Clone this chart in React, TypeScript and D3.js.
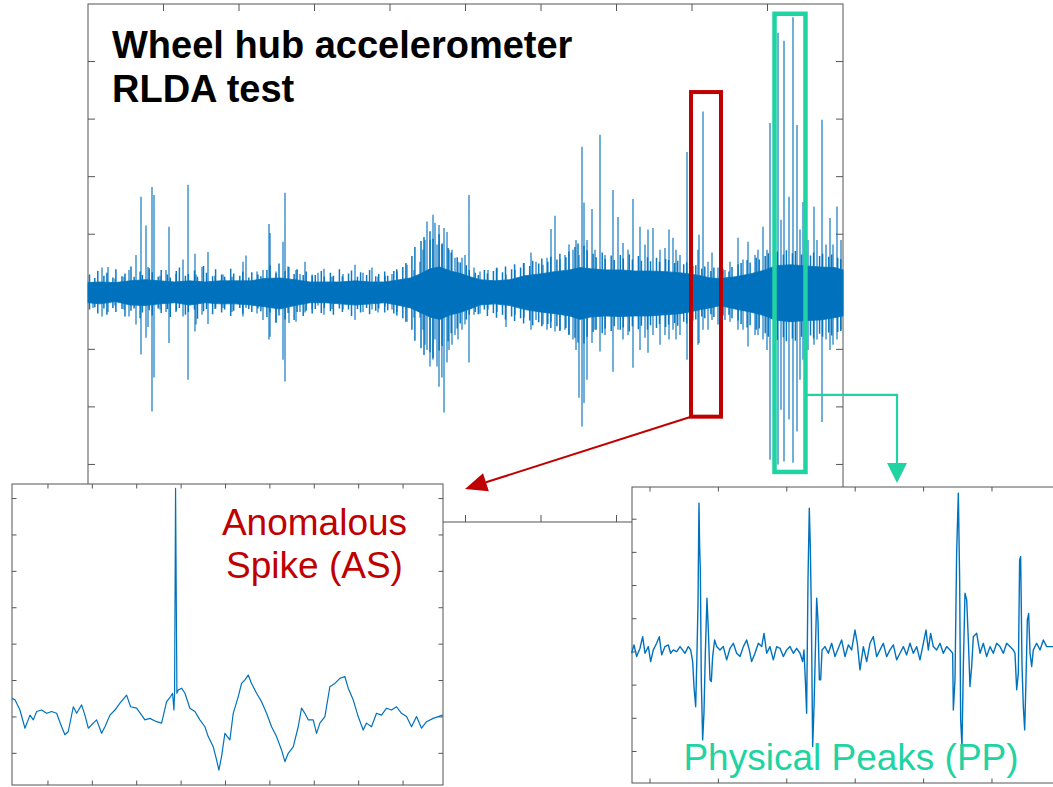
import React from 'react';
import * as d3 from 'd3';

// ---------- Main record: wheel hub accelerometer, RLDA test ----------
// Dense vibration band (core envelope), time in arbitrary units 0..1000
const envT = [0, 16, 36, 56, 76, 95, 115, 135, 155, 175, 195, 215, 234, 254, 274, 294, 314, 334, 354, 374, 393, 413, 427, 440, 453, 466, 480, 493, 506, 519, 539, 559, 579, 599, 618, 638, 652, 665, 685, 705, 725, 744, 764, 784, 797, 811, 824, 837, 857, 877, 897, 910, 930, 950, 970, 989, 1000];
const envHi = [1.6, 1.7, 1.6, 1.9, 2.1, 1.9, 1.7, 1.9, 1.7, 1.9, 1.9, 1.9, 2.3, 2.4, 2.1, 1.7, 1.7, 1.7, 1.9, 1.7, 1.7, 2.1, 2.4, 3.1, 4.0, 4.3, 3.6, 3.2, 2.6, 2.1, 1.9, 2.1, 2.8, 3.1, 3.5, 3.8, 4.2, 4.0, 3.8, 3.8, 3.6, 3.6, 3.5, 3.3, 3.1, 2.8, 2.4, 2.3, 2.6, 3.1, 3.8, 4.5, 4.7, 4.5, 4.3, 4.2, 3.8];
const envLo = [-1.9, -2.1, -1.7, -2.3, -2.4, -2.1, -1.9, -2.3, -1.9, -2.1, -2.1, -2.3, -2.6, -3.0, -2.4, -1.9, -1.9, -2.1, -2.3, -2.1, -1.9, -2.4, -2.8, -3.6, -4.4, -4.8, -4.0, -3.6, -3.0, -2.3, -2.1, -2.4, -3.1, -3.5, -3.8, -4.2, -4.8, -4.4, -4.2, -4.3, -4.2, -4.2, -4.0, -3.8, -3.5, -3.1, -2.8, -2.4, -3.0, -3.5, -4.2, -4.9, -5.2, -5.0, -4.9, -4.5, -4.2];

// Ragged fringe of the band (time, local max, local min)
const fringeT = [2, 9, 13, 21, 25, 33, 37, 45, 49, 57, 61, 69, 72, 81, 85, 93, 97, 105, 109, 117, 121, 129, 133, 141, 145, 153, 157, 165, 169, 177, 181, 189, 193, 201, 205, 213, 217, 225, 229,
  237, 241, 249, 253, 261, 265, 273, 277, 285, 289, 297,
  301, 309, 313, 321, 325, 333, 337, 345, 349, 357, 361, 369, 373, 381, 385, 393, 397, 405, 409, 417,
  421, 429, 433, 441, 445, 453, 457, 465, 469, 477, 481, 489, 493, 501, 505,
  513, 517, 525, 529, 537, 541, 549, 553, 561, 565, 573, 577, 585, 589, 597, 601, 609, 613, 621, 625, 633, 637, 645, 649,
  657, 661, 669, 673, 681, 685, 693, 697, 705, 709, 717, 721, 729, 733, 741, 745, 753, 757, 765, 769, 777, 781, 789, 793, 801,
  805, 813, 817, 825, 829, 837, 841, 849, 853, 861,
  865, 873, 877, 885, 889, 897, 901, 909, 913, 921, 925, 933, 937, 945, 949, 957, 961, 969, 973, 981, 985, 993, 997];
const fringeHi = [3.0, 2.4, 3.6, 2.8, 3.3, 2.5, 3.9, 2.7, 3.2, 4.4, 2.6, 3.5, 2.9, 4.1, 3.4, 2.6, 3.8, 3.0, 2.5, 3.6, 4.2, 2.8, 3.1, 3.7, 2.6, 4.5, 3.3, 2.7, 3.9, 3.0, 2.6, 4.0, 3.2, 2.8, 3.5, 2.5, 3.4, 3.0, 2.7,
  3.8, 4.6, 3.2, 4.9, 3.6, 4.4, 3.1, 3.9, 2.9, 3.5, 2.8,
  2.9, 3.6, 2.6, 3.3, 2.8, 3.9, 2.7, 3.2, 3.7, 2.6, 3.4, 2.9, 3.8, 2.7, 3.1, 3.5, 2.8, 3.6, 3.9, 4.3,
  5.0, 6.2, 7.8, 8.8, 9.5, 10.5, 9.2, 10.0, 8.4, 7.6, 6.8, 6.0, 5.1, 4.6, 3.8,
  3.3, 2.9, 3.8, 3.2, 3.6, 4.1, 3.4, 4.4, 3.9, 4.8, 4.2, 5.0, 4.5, 5.4, 4.9, 5.8, 5.2, 6.1, 5.6, 6.6, 6.0, 7.0, 7.8, 8.4,
  8.0, 7.2, 6.6, 6.0, 6.8, 5.7, 6.3, 5.5, 6.4, 5.8, 6.5, 5.6, 6.2, 5.4, 6.0, 5.3, 5.9, 5.2, 5.7, 5.5, 5.0, 5.4, 4.8, 5.1, 4.5,
  4.6, 4.0, 4.4, 3.6, 4.2, 3.4, 3.9, 3.5, 4.3, 4.8,
  5.0, 5.5, 5.1, 5.9, 5.6, 6.2, 6.7, 6.3, 7.0, 6.5, 7.2, 6.7, 7.1, 6.5, 6.9, 6.3, 6.8, 6.2, 6.6, 6.1, 6.5, 5.9, 5.7];
const fringeLo = [-3.1, -2.7, -3.8, -2.9, -4.0, -2.8, -3.5, -3.0, -4.3, -3.3, -2.9, -4.6, -3.6, -3.2, -4.1, -2.9, -3.7, -3.0, -4.4, -3.3, -2.8, -4.0, -3.5, -3.1, -4.7, -3.4, -3.0, -3.9, -2.9, -3.6, -3.1, -4.2, -3.3, -2.8, -3.8, -3.0, -3.5, -2.9, -3.4,
  -4.4, -3.6, -5.3, -4.1, -4.8, -3.7, -4.9, -3.5, -4.2, -3.3, -3.8,
  -3.0, -3.7, -2.8, -3.4, -4.0, -2.9, -3.5, -3.1, -4.2, -3.0, -3.6, -2.8, -3.9, -3.3, -2.9, -3.6, -3.2, -3.8, -4.1, -4.6,
  -5.2, -6.6, -8.5, -9.8, -11.0, -10.5, -11.5, -10.2, -9.4, -8.6, -7.2, -6.4, -5.5, -4.8, -4.0,
  -3.5, -3.9, -3.1, -4.2, -3.7, -4.5, -4.0, -4.8, -4.3, -5.1, -4.6, -5.5, -5.0, -5.8, -5.3, -6.0, -5.6, -6.3, -6.0, -6.8, -6.3, -7.4, -8.0, -8.8,
  -9.0, -7.8, -7.0, -6.6, -7.2, -6.4, -6.8, -6.0, -6.6, -6.2, -6.9, -6.0, -6.5, -5.9, -6.6, -5.8, -6.3, -5.6, -6.1, -5.7, -5.4, -5.9, -5.2, -5.5, -5.0,
  -4.8, -4.3, -4.6, -3.9, -4.4, -3.7, -4.1, -4.0, -4.6, -5.0,
  -5.6, -6.2, -5.8, -6.6, -6.4, -7.2, -7.8, -7.4, -8.4, -7.9, -8.6, -8.1, -8.5, -7.8, -8.2, -7.6, -8.1, -7.3, -7.8, -7.1, -7.6, -7.0, -6.8];

// Individual excursions (time, max, min)
const spikeT = [6.6, 18.5, 26.5, 35.8, 47.7, 54.3, 63.6, 70.2, 76.8, 79.5, 84.8, 87.4, 95.4, 103.3, 107.3, 116.6, 125.8, 132.4, 141.7, 143.0, 151.0, 158.9, 168.2, 178.8, 190.7, 205.3, 209.3, 223.8, 231.8, 239.7, 241.1, 249.0, 258.3, 260.9, 266.2, 275.5, 280.8, 287.4, 296.8, 304.6, 312.6, 323.2, 337.7, 353.6, 364.2, 376.2, 384.1, 393.4, 402.6, 409.3, 422.5, 431.8, 439.7, 443.7, 446.4, 449.0, 453.0, 456.9, 459.6, 462.2, 464.9, 468.8, 471.5, 475.5, 478.1, 482.1, 486.1, 490.1, 495.4, 499.3, 504.6, 511.3, 519.2, 529.8, 541.7, 553.6, 565.6, 577.5, 586.8, 593.4, 602.6, 607.9, 613.2, 618.5, 625.2, 631.8, 637.1, 642.4, 646.3, 650.3, 654.3, 657.0, 660.9, 667.5, 671.5, 678.1, 684.8, 695.4, 702.0, 708.6, 715.2, 721.9, 731.1, 737.7, 741.7, 748.3, 757.6, 764.2, 769.5, 774.8, 778.8, 784.1, 793.4, 800.0, 807.9, 809.3, 814.6, 821.2, 826.5, 834.4, 843.7, 850.3, 860.9, 867.5, 874.2, 883.4, 887.4, 894.0, 899.3, 903.3, 909.9, 913.9, 917.9, 921.9, 928.5, 933.8, 939.1, 943.0, 947.0, 953.6, 961.6, 965.6, 972.2, 977.5, 982.8, 986.8, 992.0, 997.3];
const spikeHi = [1.7, 4.2, 4.3, 2.3, 2.6, 3.8, 6.4, 16.5, 11.5, 4.3, 18.2, 16.8, 2.8, 3.8, 11.3, 3.1, 5.6, 18.6, 6.6, 3.0, 4.3, 6.9, 2.8, 3.0, 2.6, 5.2, 6.3, 3.5, 3.8, 11.8, 10.2, 3.5, 8.7, 17.2, 4.3, 3.8, 3.1, 5.2, 3.0, 3.3, 4.0, 2.6, 3.1, 4.7, 3.3, 4.2, 2.6, 2.8, 3.1, 3.5, 4.7, 3.8, 5.2, 7.3, 9.0, 12.2, 9.0, 13.4, 12.0, 8.2, 11.6, 8.2, 11.1, 10.4, 7.3, 7.3, 5.9, 5.2, 5.9, 6.4, 16.8, 4.2, 3.5, 3.8, 4.2, 3.0, 3.8, 5.0, 6.8, 5.2, 4.7, 5.9, 10.9, 13.2, 5.6, 6.4, 8.2, 7.3, 9.0, 6.4, 25.2, 15.5, 9.0, 14.4, 7.3, 27.3, 6.4, 17.7, 13.0, 8.5, 7.3, 16.1, 11.3, 8.2, 10.8, 11.1, 7.3, 7.6, 10.8, 9.4, 7.3, 6.4, 24.3, 4.7, 7.3, 9.9, 31.3, 5.2, 6.8, 4.2, 3.8, 5.2, 9.4, 5.6, 8.7, 6.4, 7.3, 11.3, 7.3, 29.3, 9.0, 45.0, 12.5, 43.6, 16.5, 47.7, 29.0, 10.8, 15.6, 9.0, 14.8, 9.0, 29.9, 8.2, 12.8, 8.2, 14.8, 9.0];
const spikeLo = [-2.8, -4.3, -3.5, -2.4, -3.1, -4.3, -5.7, -10.9, -8.0, -6.1, -20.8, -14.9, -3.1, -3.5, -8.9, -3.5, -4.3, -15.3, -6.9, -5.7, -4.0, -5.6, -3.0, -2.8, -3.5, -4.3, -2.8, -3.8, -4.9, -8.3, -7.8, -5.4, -11.8, -15.6, -5.4, -5.2, -3.5, -3.6, -3.1, -2.4, -4.0, -3.0, -3.1, -4.9, -3.5, -3.1, -3.6, -2.6, -3.1, -3.5, -5.2, -4.5, -4.5, -6.6, -9.2, -10.1, -13.0, -11.8, -8.3, -13.0, -16.5, -14.9, -21.0, -12.3, -10.1, -9.2, -7.5, -8.3, -6.6, -5.7, -12.3, -4.0, -3.8, -3.1, -3.5, -6.1, -4.0, -4.5, -6.6, -4.9, -5.7, -6.6, -5.2, -6.9, -6.6, -6.6, -7.5, -8.3, -10.1, -18.4, -23.4, -19.3, -15.3, -8.9, -6.6, -10.4, -7.5, -13.9, -6.6, -8.3, -7.5, -13.2, -10.1, -8.0, -10.6, -7.5, -9.2, -7.5, -8.3, -6.6, -8.3, -7.5, -11.8, -4.9, -9.2, -8.9, -6.6, -6.6, -4.9, -5.7, -4.9, -5.2, -6.6, -6.6, -9.5, -7.5, -7.5, -8.3, -10.1, -29.2, -24.0, -30.0, -20.5, -29.5, -22.2, -29.7, -24.3, -15.3, -11.8, -10.1, -9.2, -8.3, -22.6, -8.3, -10.1, -9.2, -8.3, -6.6];

const mainXTicks = [100, 200, 300, 400, 500, 600, 700, 800, 900];
const mainYTicks = [-30, -20, -10, 0, 10, 20, 30, 40];

// Highlighted windows in the main record (time range, value range)
const asWindow = { t0: 798.7, t1: 838.4, v0: -21.7, v1: 34.7 };
const ppWindow = { t0: 909.3, t1: 950.3, v0: -31.3, v1: 48.3 };
const ppConnectorV = -17.9;

// ---------- Inset: anomalous spike ----------
const asT = [-8.1, -7.43, -6.31, -5.18, -4.05, -3.30, -2.55, -1.43, -0.30, 0.83, 1.95, 3.08, 3.83, 4.58, 5.71, 6.46, 7.58, 8.33, 9.08, 10.21, 10.96, 12.09, 12.84, 13.96, 15.09, 16.22, 17.72, 18.62, 19.97, 21.10, 21.85, 22.97, 24.47, 25.60, 26.73, 27.63, 28.08, 28.38, 28.53, 28.75, 29.05, 29.35, 30.11, 30.86, 31.98, 33.11, 34.23, 35.36, 36.11, 37.24, 37.99, 38.51, 39.11, 39.86, 40.99, 41.74, 42.87, 43.62, 44.37, 45.12, 45.87, 47.00, 48.12, 49.25, 50.38, 51.50, 52.63, 53.38, 54.13, 55.26, 56.38, 57.13, 57.88, 58.63, 59.76, 60.51, 61.26, 62.39, 63.51, 64.64, 65.77, 66.89, 67.64, 68.77, 69.89, 71.02, 71.77, 72.90, 74.02, 75.15, 76.28, 77.40, 78.53, 79.65, 80.78, 81.91, 83.03, 84.16, 85.29, 86.79, 88.9];
const asV = [0.51, 0.47, 0.19, -0.31, 0.05, -0.08, 0.15, 0.19, 0.10, 0.15, 0.10, -0.27, -0.49, -0.40, 0.28, 0.10, 0.33, 0.05, -0.31, -0.17, -0.08, -0.45, -0.27, 0.05, 0.19, 0.38, 0.60, 0.28, 0.24, 0.05, -0.08, -0.04, -0.13, -0.17, 0.42, 0.56, 0.65, 0.19, 0.65, 6.28, 0.65, 0.74, 0.79, 0.65, 0.24, 0.15, -0.08, -0.27, -0.54, -0.82, -1.18, -1.46, -1.09, -0.45, -0.63, 0.10, 0.56, 0.92, 1.02, 1.15, 0.92, 0.65, 0.42, 0.10, -0.27, -0.54, -0.91, -1.23, -1.00, -0.82, -0.27, 0.24, 0.10, -0.08, -0.08, -0.45, -0.17, 0.01, 0.83, 0.92, 1.06, 1.11, 0.79, 0.47, 0.01, -0.36, -0.17, -0.27, 0.10, 0.05, 0.24, 0.19, 0.28, 0.10, 0.01, -0.27, 0.01, -0.31, -0.13, -0.04, 0.05];
const asXTicks = [0, 10, 20, 30, 40, 50, 60, 70, 80];
const asYTicks = [-1, 0, 1, 2, 3, 4, 5, 6];

// ---------- Inset: physical peaks ----------
const ppT = [-2.68, -2.34, -1.95, -1.46, -1.07, -0.73, -0.24, 0.10, 0.49, 0.97, 1.36, 1.71, 2.19, 2.68, 3.02, 3.41, 3.90, 4.39, 5.12, 5.60, 5.95, 6.24,
  6.43, 6.68, 6.87, 7.02, 7.16, 7.26, 7.36, 7.50, 7.70, 7.89, 8.09, 8.33, 8.53, 8.77, 8.97, 9.16, 9.45, 9.75,
  10.23, 10.72, 11.21, 11.70, 12.18, 12.67, 13.16, 13.65, 14.13, 14.52, 14.86, 15.35, 15.84, 16.33, 16.67, 17.06, 17.54, 18.03, 18.52, 19.01, 19.49, 19.98, 20.47, 20.96, 21.44, 21.93, 22.32, 22.51,
  22.71, 22.90, 23.10, 23.29, 23.44, 23.59, 23.78, 23.98, 24.17, 24.37, 24.56, 24.76, 24.95, 25.15,
  25.58, 26.07, 26.56, 27.05, 27.53, 28.02, 28.51, 29.00, 29.48, 29.97, 30.31, 30.70, 31.19, 31.68, 32.16, 32.65, 33.14, 33.63, 34.11, 34.60, 35.09, 35.58, 36.06, 36.55, 37.04, 37.52, 38.01, 38.50, 38.99, 39.47, 39.96, 40.35, 40.69, 41.03, 41.42, 41.91, 42.40, 42.88, 43.37, 43.86, 44.25,
  44.35, 44.59, 44.83, 45.08, 45.27, 45.42, 45.61, 45.81, 46.05, 46.30, 46.54, 46.78, 47.03, 47.27,
  47.76, 48.25, 48.73, 49.22, 49.71, 50.19, 50.68, 51.17, 51.66, 52.14, 52.63, 53.12, 53.36,
  53.61, 53.85, 54.04, 54.19, 54.39, 54.58, 54.78, 54.97, 55.17, 55.36, 55.56, 55.80, 56.04, 56.53, 57.02, 57.51, 57.99, 58.92];
const ppV = [-0.04, 0.21, -0.14, 0.11, 0.46, -0.04, 0.16, -0.29, 0.06, 0.26, 0.46, -0.09, 0.16, 0.21, -0.04, 0.06, 0.01, 0.16, -0.04, 0.16, 0.06, -0.29,
  -1.04, -1.65, -0.04, 1.47, 4.48, 3.17, 2.47, -0.84, -2.65, -1.85, -0.04, 1.62, 0.66, -0.84, -0.89, -0.14, 0.36, 0.16,
  0.06, 0.16, -0.24, 0.11, 0.26, -0.04, -0.14, 0.16, 0.36, 0.06, -0.29, -0.04, 0.26, 0.16, 0.56, -0.04, 0.16, -0.24, 0.16, 0.11, -0.14, 0.06, 0.16, -0.04, 0.11, -0.04, -0.29, 0.06,
  -0.84, -1.85, 2.17, 4.33, 3.17, 1.16, -2.85, -1.65, -0.04, 1.62, 0.96, -0.84, -0.84, 0.06,
  0.16, -0.04, 0.26, -0.14, 0.11, 0.36, -0.14, 0.21, 0.06, 0.66, 0.26, -0.54, 0.16, -0.29, 0.26, 0.46, -0.14, 0.06, 0.26, -0.14, 0.06, 0.21, -0.24, -0.04, 0.16, -0.09, 0.26, -0.04, 0.16, -0.24, 0.26, 0.66, 0.06, 0.56, 0.16, 0.06, 0.26, -0.04, 0.16, 0.06, -0.04,
  -1.75, -0.84, 2.97, 4.78, 2.17, -2.05, -2.85, -0.44, 1.77, 1.57, 0.36, -1.04, -0.44, 0.46,
  0.56, -0.04, 0.26, -0.14, 0.16, -0.04, 0.26, 0.16, -0.04, 0.26, 0.16, 0.06, -0.04,
  -1.14, -0.64, 2.77, 2.87, -0.44, -1.65, -2.35, -0.84, 0.96, 1.16, -0.04, -0.44, 0.06, 0.26, 0.06, 0.36, 0.16, 0.16];
const ppXTicks = [0, 10, 20, 30, 40, 50];
const ppYTicks = [-3, -2, -1, 0, 1, 2, 3, 4];

const BLUE = '#0072BD';
const RED = '#C00000';
const GREEN = '#1FD3A2';
const FRAME = '#555555';
const FONT = "'Liberation Sans', Arial, Helvetica, sans-serif";

function pairs(t: number[], v: number[]): [number, number][] {
  const n = Math.min(t.length, v.length);
  return d3.range(n).map((i) => [t[i], v[i]] as [number, number]);
}

function Frame({ x0, x1, y0, y1, xt, yt, sx, sy, len, fill }: any) {
  const ticks: string[] = [];
  xt.forEach((t: number) => {
    const px = sx(t);
    ticks.push(`M${px},${y0}V${y0 + len}`);
    ticks.push(`M${px},${y1}V${y1 - len}`);
  });
  yt.forEach((t: number) => {
    const py = sy(t);
    ticks.push(`M${x0},${py}H${x0 + len}`);
    ticks.push(`M${x1},${py}H${x1 - len}`);
  });
  return (
    <g>
      {fill && <rect x={x0} y={y0} width={x1 - x0} height={y1 - y0} fill={fill} />}
      <path d={ticks.join('')} stroke={FRAME} strokeWidth={1} fill="none" />
      <rect x={x0} y={y0} width={x1 - x0} height={y1 - y0} fill="none" stroke={FRAME} strokeWidth={1} />
    </g>
  );
}

function arrowHead(x1: number, y1: number, x2: number, y2: number, len: number, half: number) {
  const dx = x2 - x1, dy = y2 - y1;
  const L = Math.hypot(dx, dy);
  const ux = dx / L, uy = dy / L;
  const bx = x2 - ux * len, by = y2 - uy * len;
  const px = -uy, py = ux;
  return {
    base: [bx, by],
    poly: `${x2},${y2} ${bx + px * half},${by + py * half} ${bx - px * half},${by - py * half}`,
  };
}

function vlines(t: number[], hi: number[], lo: number[], sx: any, sy: any) {
  const n = Math.min(t.length, hi.length, lo.length);
  return d3
    .range(n)
    .map((i) => `M${sx(t[i]).toFixed(1)},${sy(hi[i]).toFixed(1)}V${sy(lo[i]).toFixed(1)}`)
    .join('');
}

export default function App() {
  // main chart
  const x = d3.scaleLinear().domain([0, 1000]).range([88, 843]);
  const y = d3.scaleLinear().domain([-40, 50]).range([522, 4]);
  const bandIdx = d3.range(Math.min(envT.length, envHi.length, envLo.length));
  const band = d3
    .area<number>()
    .x((i) => x(envT[i]))
    .y0((i) => y(envLo[i]))
    .y1((i) => y(envHi[i]))(bandIdx);
  const spikePath = vlines(spikeT, spikeHi, spikeLo, x, y);
  const fringePath = vlines(fringeT, fringeHi, fringeLo, x, y);

  // AS inset
  const ax = d3.scaleLinear().domain([-8.1, 89.0]).range([12, 443]);
  const ay = d3.scaleLinear().domain([-1.87, 6.4]).range([785, 484]);
  const asLine = d3
    .line<[number, number]>()
    .x((d) => ax(d[0]))
    .y((d) => ay(d[1]))(pairs(asT, asV));

  // PP inset
  const px = d3.scaleLinear().domain([-2.63, 60]).range([632, 1060.4]);
  const py = d3.scaleLinear().domain([-3.95, 4.97]).range([783, 487]);
  const ppLine = d3
    .line<[number, number]>()
    .x((d) => px(d[0]))
    .y((d) => py(d[1]))(pairs(ppT, ppV));

  // annotations
  const redBox = { x: x(asWindow.t0), y: y(asWindow.v1), w: x(asWindow.t1) - x(asWindow.t0), h: y(asWindow.v0) - y(asWindow.v1) };
  const grnBox = { x: x(ppWindow.t0), y: y(ppWindow.v1), w: x(ppWindow.t1) - x(ppWindow.t0), h: y(ppWindow.v0) - y(ppWindow.v1) };
  const redStart: [number, number] = [redBox.x, redBox.y + redBox.h];
  const redTip: [number, number] = [465, 489];
  const redHead = arrowHead(redStart[0], redStart[1], redTip[0], redTip[1], 22, 9.5);
  const gY = y(ppConnectorV);
  const gX0 = grnBox.x + grnBox.w;
  const gElbowX = 897;
  const gTipY = 483;
  const grnHead = arrowHead(gElbowX, gY, gElbowX, gTipY, 20, 10);

  return (
    <svg width={1053} height={787} style={{ position: 'absolute', left: 0, top: 0, background: '#fff' }} fontFamily={FONT}>
      <rect width={1053} height={787} fill="#fff" />
      {/* main chart */}
      <Frame x0={88} x1={843} y0={4} y1={522} xt={mainXTicks} yt={mainYTicks} sx={x} sy={y} len={7} />
      <path d={spikePath} stroke={BLUE} strokeWidth={1.4} strokeOpacity={0.8} fill="none" />
      <path d={fringePath} stroke={BLUE} strokeWidth={1.5} strokeOpacity={0.95} fill="none" />
      <path d={band || ''} fill={BLUE} stroke={BLUE} strokeWidth={0.8} />
      <text x={112} y={58} fontSize={38} fontWeight="bold" fill="#000">Wheel hub accelerometer</text>
      <text x={112} y={102} fontSize={38} fontWeight="bold" fill="#000">RLDA test</text>

      {/* highlight boxes */}
      <rect x={redBox.x} y={redBox.y} width={redBox.w} height={redBox.h} fill="none" stroke={RED} strokeWidth={4} />
      <rect x={grnBox.x} y={grnBox.y} width={grnBox.w} height={grnBox.h} fill="none" stroke={GREEN} strokeWidth={4.5} />

      {/* connectors */}
      <line x1={redStart[0]} y1={redStart[1]} x2={redHead.base[0]} y2={redHead.base[1]} stroke={RED} strokeWidth={2} />
      <polygon points={redHead.poly} fill={RED} />
      <path d={`M${gX0},${gY}H${gElbowX}V${grnHead.base[1]}`} stroke={GREEN} strokeWidth={2.2} fill="none" />
      <polygon points={grnHead.poly} fill={GREEN} />

      {/* AS inset */}
      <Frame x0={12} x1={443} y0={484} y1={785} xt={asXTicks} yt={asYTicks} sx={ax} sy={ay} len={4.5} fill="#fff" />
      <path d={asLine || ''} stroke={BLUE} strokeWidth={1.2} fill="none" strokeLinejoin="round" />
      <text x={314.5} y={535} fontSize={37} fill={RED} textAnchor="middle">Anomalous</text>
      <text x={314.5} y={578} fontSize={37} fill={RED} textAnchor="middle">Spike (AS)</text>

      {/* PP inset */}
      <Frame x0={632} x1={1060.4} y0={487} y1={783} xt={ppXTicks} yt={ppYTicks} sx={px} sy={py} len={4.5} fill="#fff" />
      <path d={ppLine || ''} stroke={BLUE} strokeWidth={1.4} fill="none" strokeLinejoin="round" />
      <text x={851} y={770} fontSize={37} fill={GREEN} textAnchor="middle">Physical Peaks (PP)</text>
    </svg>
  );
}
